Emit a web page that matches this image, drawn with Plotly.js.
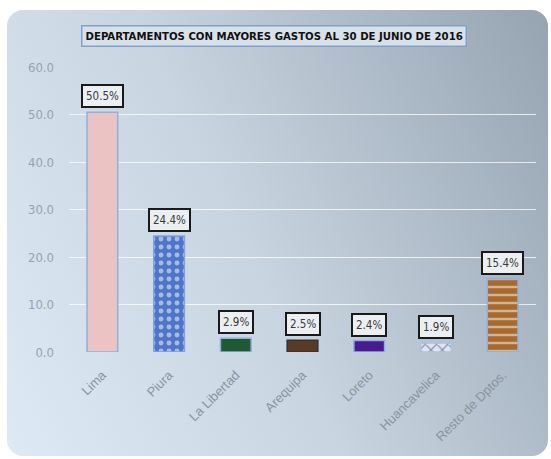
<!DOCTYPE html>
<html>
<head>
<meta charset="utf-8">
<script src="https://cdn.plot.ly/plotly-3.0.1.min.js"></script>
<style>
  html, body { margin: 0; padding: 0; background: #ffffff; }
  #wrap { position: relative; width: 551px; height: 459px; }
  #panel { position: absolute; left: 7px; top: 10px; width: 541px; height: 446px;
    border-radius: 16px;
    background: linear-gradient(65deg, #dde9f5 0%, #c8d5e1 45%, #96a3b0 100%); }
  #chart { position: absolute; left: 0; top: 0; width: 551px; height: 459px; }
</style>
</head>
<body>
<div id="wrap">
  <div id="panel"></div>
  <div id="chart"></div>
</div>
<script>
const categories = ["Lima", "Piura", "La Libertad", "Arequipa", "Loreto", "Huancavelica", "Resto de Dptos."];
const values = [50.5, 24.4, 2.9, 2.5, 2.4, 1.9, 15.4];
const yTicks = [0, 10, 20, 30, 40, 50, 60];
const titleText = "DEPARTAMENTOS CON MAYORES GASTOS AL 30 DE JUNIO DE 2016";

const barColors = ["#ebc3c3", "#4f74c8", "#1f5a34", "#5a3a22", "#4a1a92", "#dce6f2", "#a8692e"];
const lineColors = ["#8fb0dc", "#7fa2e0", "#8fb0dc", "#2a3440", "#8fb0dc", "#a8c4e4", "#8fb0dc"];
const patShapes = ["", ".", "", "", "", "x", "-"];
const patFg = ["#f2d8d8", "#b8cbf0", "#2f7048", "#6a4a30", "#5a2aa2", "#ffffff", "#6e3c14"];

const condensed = "DejaVu Sans Condensed, Liberation Sans Narrow, Arial Narrow, sans-serif";

const trace = {
  type: "bar",
  x: categories,
  y: values,
  width: 0.46,
  marker: {
    color: barColors,
    line: { color: lineColors, width: 1.5 },
    pattern: { shape: patShapes, fgcolor: patFg, size: 8, solidity: 0.3, fillmode: "overlay" }
  },
  hoverinfo: "x+y"
};

const annotations = values.map((v, i) => ({
  x: categories[i], y: v, xref: "x", yref: "y",
  yanchor: "bottom", yshift: 4,
  text: v.toFixed(1) + "%",
  showarrow: false,
  font: { family: condensed, size: 11.5, color: "#3a3a3a" },
  bgcolor: "#eceff2",
  bordercolor: "#1a1a1a",
  borderwidth: 2,
  borderpad: 3
}));

annotations.push({
  x: 0.5, y: 1, xref: "paper", yref: "paper", xanchor: "center", yanchor: "bottom",
  yshift: 20, xshift: -29,
  text: "<b>" + titleText + "</b>",
  showarrow: false,
  font: { family: condensed, size: 11.3, color: "#111111" },
  bgcolor: "#d8e1ea",
  bordercolor: "#7ea2cc",
  borderwidth: 1.5,
  borderpad: 3
});

const layout = {
  width: 551, height: 459,
  margin: { l: 69, r: 15, t: 67, b: 107 },
  paper_bgcolor: "rgba(0,0,0,0)",
  plot_bgcolor: "rgba(0,0,0,0)",
  showlegend: false,
  xaxis: {
    type: "category",
    tickangle: -45,
    tickfont: { family: "Liberation Sans, Arial, sans-serif", size: 13, color: "#8a949e" },
    showgrid: false, zeroline: false, showline: false, ticks: "",
    ticklabelstandoff: 12
  },
  yaxis: {
    range: [0, 60],
    tickvals: yTicks,
    ticktext: yTicks.map(t => t.toFixed(1)),
    tickfont: { family: condensed, size: 13, color: "#98a3ae" },
    showgrid: true, gridcolor: "rgba(255,255,255,0.75)", gridwidth: 1,
    zeroline: false, showline: false, ticks: "", ticklabelstandoff: 14
  },
  annotations: annotations
};

Plotly.newPlot("chart", [trace], layout, { displayModeBar: false, staticPlot: true });
</script>
</body>
</html>
